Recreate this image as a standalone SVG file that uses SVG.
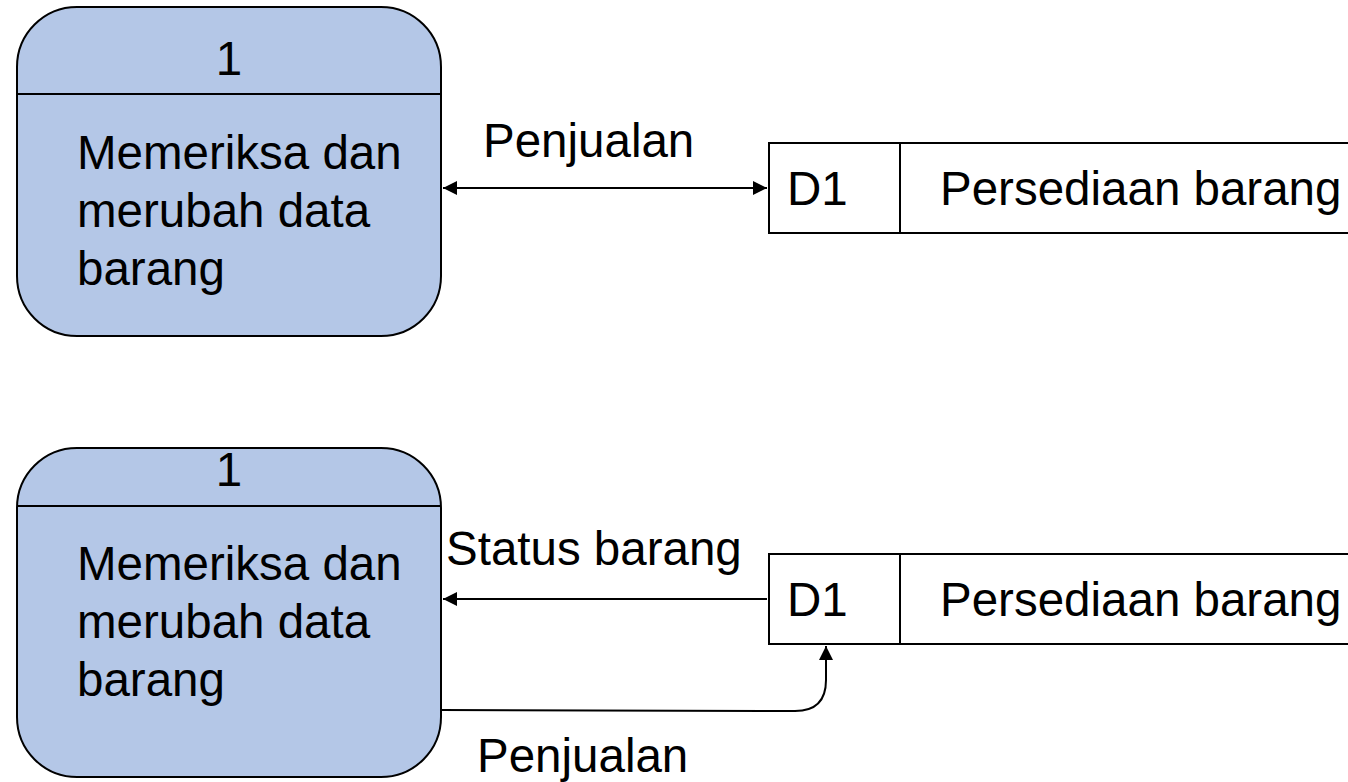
<svg xmlns="http://www.w3.org/2000/svg" width="1348" height="782" viewBox="0 0 1348 782">
<style>
.proc{fill:#B4C7E7;stroke:#000;stroke-width:2}
.ln{stroke:#000;stroke-width:2;fill:none}
.t{font-family:"Liberation Sans",Arial,sans-serif;font-size:47.5px;fill:#000}
.c{text-anchor:middle}
</style>
<defs>
<marker id="ah2" viewBox="0 0 10 10" refX="10" refY="5" markerWidth="14" markerHeight="14" orient="auto-start-reverse" markerUnits="userSpaceOnUse">
<path d="M0,0 L10,5 L0,10 z" fill="#000"/>
</marker>
</defs>
<g id="p1top">
<rect class="proc" x="17" y="7" width="424" height="329" rx="60" ry="60"/>
<line class="ln" x1="17" y1="94" x2="441" y2="94"/>
<text class="t c" x="229" y="75">1</text>
<text class="t" x="77" y="169">Memeriksa dan</text>
<text class="t" x="77" y="227">merubah data</text>
<text class="t" x="77" y="285">barang</text>
</g>
<g id="d1top">
<path class="ln" d="M1350,143 H769 V233 H1350"/>
<line class="ln" x1="900" y1="143" x2="900" y2="233"/>
<text class="t" x="787" y="205">D1</text>
<text class="t" x="940" y="205">Persediaan barang</text>
</g>
<g id="p1bot">
<rect class="proc" x="17" y="448" width="424" height="329" rx="60" ry="60"/>
<line class="ln" x1="17" y1="506" x2="441" y2="506"/>
<text class="t c" x="229" y="486">1</text>
<text class="t" x="77" y="580">Memeriksa dan</text>
<text class="t" x="77" y="638">merubah data</text>
<text class="t" x="77" y="696">barang</text>
</g>
<g id="d1bot">
<path class="ln" d="M1350,554 H769 V644 H1350"/>
<line class="ln" x1="900" y1="554" x2="900" y2="644"/>
<text class="t" x="787" y="616">D1</text>
<text class="t" x="940" y="616">Persediaan barang</text>
</g>
<g id="connectors">
<line class="ln" x1="443" y1="188" x2="767" y2="188" marker-start="url(#ah2)" marker-end="url(#ah2)"/>
<line class="ln" x1="767" y1="599" x2="443" y2="599" marker-end="url(#ah2)"/>
<path class="ln" d="M441,710 L795,711 Q826,711 826,680 L826,646" marker-end="url(#ah2)"/>
</g>
<g id="labels">
<text class="t" x="483" y="157">Penjualan</text>
<text class="t" x="446" y="565">Status barang</text>
<text class="t" x="477" y="772">Penjualan</text>
</g>
</svg>
